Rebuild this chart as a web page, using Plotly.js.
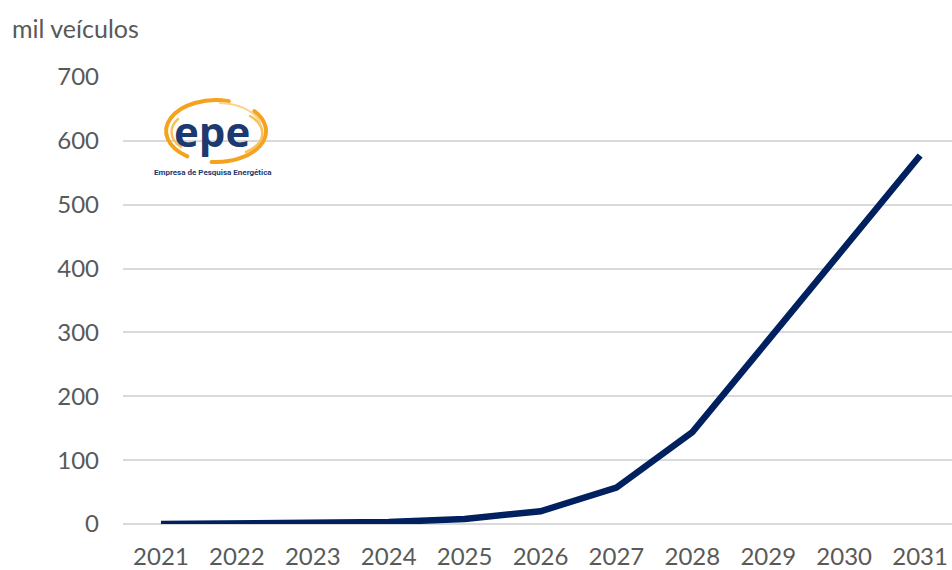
<!DOCTYPE html>
<html>
<head>
<meta charset="utf-8">
<script src="https://cdn.plot.ly/plotly-3.0.1.min.js"></script>
<style>html,body{margin:0;padding:0;background:#fff;}#chart{width:952px;height:570px;}</style>
</head>
<body>
<div id="chart"></div>
<script>
const years = ["2021","2022","2023","2024","2025","2026","2027","2028","2029","2030","2031"];
const vehicles = [0, 0.3, 1, 3, 8, 20, 57, 144, 288, 432, 577];
const yTicks = [0, 100, 200, 300, 400, 500, 600, 700];
const unitLabel = "mil veículos";
const logoText = "epe";
const logoSub = "Empresa de Pesquisa Energética";

const grey = "#595959";
const font = "Lato, 'Open Sans', sans-serif";

// logo swirl (decorative, drawn as SVG image)
const swirl = '<svg xmlns="http://www.w3.org/2000/svg" width="130" height="78" viewBox="0 0 130 78">' +
  '<path d="M 78.9 9.1 A 50 31 0 0 0 37.3 64.4" fill="none" stroke="#F5A31F" stroke-width="4" stroke-linecap="round"/>' +
  '<path d="M 104.3 19.1 A 50 31 0 0 1 61.6 69.9" fill="none" stroke="#F5A31F" stroke-width="4" stroke-linecap="round"/>' +
  '<path d="M 28 27 A 42 24 0 0 0 31 55" fill="none" stroke="#F8C15A" stroke-width="2.5" stroke-linecap="round"/>' +
  '<path d="M 100 24 A 42 24 0 0 1 96 60" fill="none" stroke="#F8C15A" stroke-width="2.5" stroke-linecap="round"/>' +
  '<path d="M 70 11 A 44 27 0 0 1 110 30" fill="none" stroke="#FAD48A" stroke-width="2" stroke-linecap="round"/>' +
  '</svg>';
const swirlURI = "data:image/svg+xml;base64," + btoa(swirl);

const trace = {
  x: years,
  y: vehicles,
  type: "scatter",
  mode: "lines",
  line: {color: "#002060", width: 6.5},
  hoverinfo: "x+y"
};

const layout = {
  width: 952,
  height: 570,
  margin: {l: 123, r: 0, t: 77, b: 46},
  paper_bgcolor: "#ffffff",
  plot_bgcolor: "#ffffff",
  showlegend: false,
  font: {family: font, color: grey, size: 24},
  xaxis: {
    type: "category",
    range: [-0.5, 10.42],
    showgrid: false,
    zeroline: false,
    showline: false,
    ticks: "",
    ticklabelstandoff: 16,
    tickfont: {family: font, color: grey, size: 24}
  },
  yaxis: {
    range: [0, 700],
    tickvals: yTicks,
    showgrid: true,
    gridcolor: "#d9d9d9",
    gridwidth: 2,
    zeroline: true,
    zerolinecolor: "#d9d9d9",
    zerolinewidth: 2,
    showline: false,
    ticks: "",
    ticklabelstandoff: 23,
    tickfont: {family: font, color: grey, size: 24}
  },
  images: [{
    source: swirlURI,
    xref: "paper", yref: "paper",
    x: (150 - 123) / 829, y: (524 - 92) / 447,
    sizex: 130 / 829, sizey: 78 / 447,
    xanchor: "left", yanchor: "top",
    sizing: "stretch",
    layer: "above"
  }],
  annotations: [
    {
      text: unitLabel,
      xref: "paper", yref: "paper",
      x: (10 - 123) / 829, y: (524 - 28) / 447,
      xanchor: "left", yanchor: "middle",
      showarrow: false,
      font: {family: font, color: grey, size: 25}
    },
    {
      text: "<b>" + logoText + "</b>",
      xref: "paper", yref: "paper",
      x: (212 - 123) / 829, y: (524 - 130) / 447,
      xanchor: "center", yanchor: "middle",
      showarrow: false,
      font: {family: "'Open Sans', sans-serif", color: "#1C3A70", size: 42}
    },
    {
      text: "<b>" + logoSub + "</b>",
      xref: "paper", yref: "paper",
      x: (213 - 123) / 829, y: (524 - 172) / 447,
      xanchor: "center", yanchor: "middle",
      showarrow: false,
      font: {family: "'Liberation Sans Narrow', Roboto, sans-serif", color: "#1C3A70", size: 8}
    }
  ]
};

Plotly.newPlot("chart", [trace], layout, {displayModeBar: false, staticPlot: true});
</script>
</body>
</html>
